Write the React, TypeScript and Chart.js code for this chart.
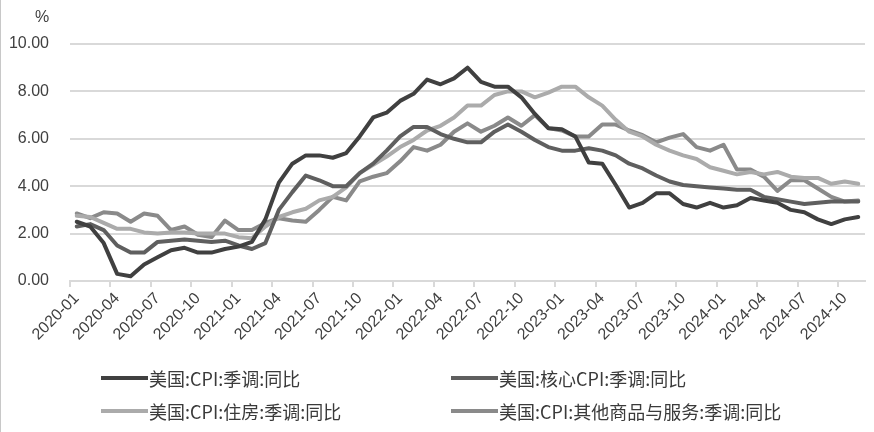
import React, { useEffect, useRef } from "react";
import { Chart, registerables } from "chart.js";

Chart.register(...registerables);

const years = ["2020", "2021", "2022", "2023", "2024"];
const monthNums = ["01", "02", "03", "04", "05", "06", "07", "08", "09", "10", "11", "12"];
const categories: string[] = [];
years.forEach((y) => monthNums.forEach((m) => categories.push(`${y}-${m}`)));
categories.splice(59); // 2020-01 .. 2024-11

const seriesNames = [
  "美国:CPI:季调:同比",
  "美国:核心CPI:季调:同比",
  "美国:CPI:住房:季调:同比",
  "美国:CPI:其他商品与服务:季调:同比",
];

const cpi = [
  2.5, 2.3, 1.6, 0.3, 0.2, 0.7, 1.0, 1.3, 1.4, 1.2, 1.2, 1.35,
  1.45, 1.65, 2.6, 4.15, 4.95, 5.3, 5.3, 5.2, 5.4, 6.1, 6.9, 7.1,
  7.6, 7.9, 8.5, 8.3, 8.55, 9.0, 8.4, 8.2, 8.2, 7.75, 7.05, 6.45,
  6.4, 6.1, 5.0, 4.95, 4.05, 3.1, 3.3, 3.7, 3.7, 3.25, 3.1, 3.3,
  3.1, 3.2, 3.5, 3.4, 3.3, 3.0, 2.9, 2.6, 2.4, 2.6, 2.7,
];

const coreCpi = [
  2.3, 2.4, 2.15, 1.5, 1.2, 1.2, 1.65, 1.7, 1.75, 1.7, 1.65, 1.7,
  1.5, 1.35, 1.6, 3.0, 3.75, 4.45, 4.25, 4.0, 4.0, 4.55, 4.95, 5.5,
  6.1, 6.5, 6.5, 6.2, 6.0, 5.85, 5.85, 6.3, 6.6, 6.3, 5.95, 5.65,
  5.5, 5.5, 5.6, 5.5, 5.3, 4.95, 4.75, 4.45, 4.2, 4.05, 4.0, 3.95,
  3.9, 3.85, 3.85, 3.55, 3.45, 3.35, 3.25, 3.3, 3.35, 3.35, 3.35,
];

const housing = [
  2.75, 2.7, 2.45, 2.2, 2.2, 2.05, 2.0, 2.05, 2.05, 2.0, 2.0, 2.0,
  1.85, 1.8, 2.3, 2.7, 2.9, 3.05, 3.4, 3.55, 3.95, 4.55, 4.9, 5.25,
  5.65, 5.95, 6.35, 6.55, 6.9, 7.4, 7.4, 7.85, 8.0, 8.0, 7.75, 7.95,
  8.2, 8.2, 7.75, 7.4, 6.8, 6.3, 6.1, 5.75, 5.5, 5.3, 5.15, 4.8,
  4.65, 4.5, 4.6, 4.5, 4.6, 4.4, 4.35, 4.35, 4.1, 4.2, 4.1,
];

const otherGoods = [
  2.85, 2.65, 2.9, 2.85, 2.5, 2.85, 2.75, 2.15, 2.3, 1.95, 1.85, 2.55,
  2.15, 2.15, 2.45, 2.65, 2.55, 2.5, 3.0, 3.55, 3.4, 4.2, 4.4, 4.55,
  5.05, 5.65, 5.5, 5.75, 6.3, 6.65, 6.3, 6.55, 6.9, 6.55, 7.0, 6.45,
  6.35, 6.1, 6.1, 6.6, 6.6, 6.35, 6.15, 5.85, 6.05, 6.2, 5.65, 5.5,
  5.75, 4.7, 4.7, 4.4, 3.8, 4.25, 4.25, 3.9, 3.55, 3.35, 3.4,
];

const seriesColors = ["#404040", "#5f5f5f", "#ababab", "#8a8a8a"];
const yTicks = [0, 2, 4, 6, 8, 10];
const unitLabel = "%";

export default function App() {
  const canvasRef = useRef<HTMLCanvasElement | null>(null);

  useEffect(() => {
    document.body.style.margin = "0";
    const canvas = canvasRef.current;
    if (!canvas) return;

    const unitPlugin = {
      id: "unitLabel",
      afterDraw(chart: any) {
        const ctx = chart.ctx;
        ctx.save();
        ctx.fillStyle = "#404040";
        ctx.font = "16px 'Liberation Sans', Arial, sans-serif";
        ctx.textAlign = "center";
        ctx.textBaseline = "middle";
        ctx.fillText(unitLabel, 41, 18);
        ctx.restore();
      },
    };

    const data = [cpi, coreCpi, housing, otherGoods];
    const chart = new Chart(canvas, {
      type: "line",
      data: {
        labels: categories,
        datasets: data.map((d, i) => ({
          label: seriesNames[i],
          data: d,
          borderColor: seriesColors[i],
          backgroundColor: seriesColors[i],
          borderWidth: 4,
          pointRadius: 0,
          tension: 0,
          borderJoinStyle: "round" as const,
          borderCapStyle: "round" as const,
          fill: false,
        })),
      },
      options: {
        responsive: false,
        animation: false,
        layout: { padding: { top: 44, right: 9, left: 0, bottom: 0 } },
        plugins: {
          legend: { display: false },
          tooltip: { enabled: false },
        },
        scales: {
          x: {
            type: "category",
            offset: true,
            afterFit: (scale: any) => {
              scale.height = 151;
            },
            border: { display: true, color: "#d9d9d9", width: 2 },
            grid: {
              offset: true,
              drawOnChartArea: false,
              drawTicks: true,
              tickLength: 6,
              lineWidth: 2,
              color: (ctx: any) => (ctx.index % 3 === 0 && ctx.index < categories.length ? "#d9d9d9" : "rgba(0,0,0,0)"),
            },
            ticks: {
              autoSkip: false,
              maxRotation: 45,
              minRotation: 45,
              padding: 2,
              color: "#404040",
              font: { family: "'Liberation Sans', Arial, sans-serif", size: 16 },
              callback: (_v: any, idx: number) => (idx % 3 === 0 ? categories[idx] : ""),
            },
          },
          y: {
            min: 0,
            max: 10,
            afterFit: (scale: any) => {
              scale.width = 69;
            },
            afterBuildTicks: (scale: any) => {
              scale.ticks = yTicks.map((v) => ({ value: v }));
            },
            border: { display: false },
            grid: { color: "#d9d9d9", lineWidth: 2, drawTicks: false },
            ticks: {
              padding: 21,
              color: "#404040",
              font: { family: "'Liberation Sans', Arial, sans-serif", size: 16 },
              callback: (v: any) => Number(v).toFixed(2),
            },
          },
        },
      },
      plugins: [unitPlugin],
    });

    return () => chart.destroy();
  }, []);

  const legendPos = [
    { left: 100, top: 364 },
    { left: 450, top: 364 },
    { left: 100, top: 397 },
    { left: 450, top: 397 },
  ];

  return (
    <div
      style={{
        position: "relative",
        width: 874,
        height: 432,
        background: "#fff",
        overflow: "hidden",
        boxSizing: "border-box",
        borderLeft: "1px solid #c8c8c8",
      }}
    >
      <canvas ref={canvasRef} width={873} height={432} style={{ display: "block" }} />
      {seriesNames.map((name, i) => (
        <div
          key={name}
          style={{
            position: "absolute",
            left: legendPos[i].left,
            top: legendPos[i].top,
            height: 28,
            display: "flex",
            alignItems: "center",
            fontFamily: "'Noto Sans CJK SC', 'Liberation Sans', sans-serif",
            fontSize: 18,
            color: "#3a3a3a",
            whiteSpace: "nowrap",
          }}
        >
          <span
            style={{
              display: "inline-block",
              width: 47,
              height: 4,
              background: seriesColors[i],
              marginRight: 1,
            }}
          />
          <span>{name}</span>
        </div>
      ))}
    </div>
  );
}
